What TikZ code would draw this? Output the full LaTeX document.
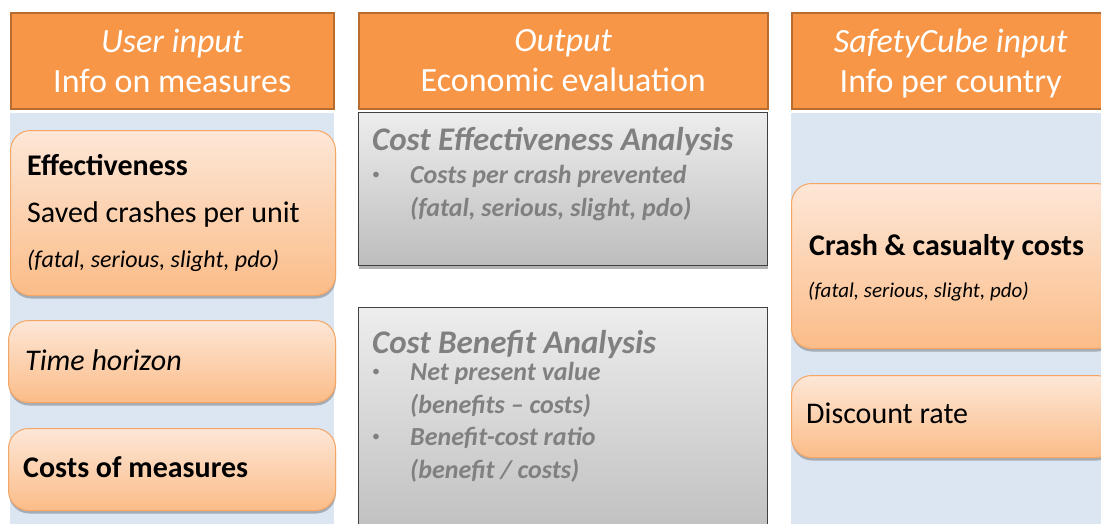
\documentclass[tikz,border=0pt]{standalone}
\usepackage{fontspec}
\setmainfont{Carlito}
\usetikzlibrary{calc,shadows}

\definecolor{hdrfill}{HTML}{F79646}
\definecolor{hdrline}{HTML}{B86C30}
\definecolor{colblue}{HTML}{DCE6F2}
\definecolor{boxtop}{HTML}{FDE7D7}
\definecolor{boxbot}{HTML}{FBBC88}
\definecolor{boxline}{HTML}{F5A564}
\definecolor{greytop}{HTML}{EDEDED}
\definecolor{greybot}{HTML}{BDBDBD}
\definecolor{greytext}{HTML}{808080}

\tikzset{
  header/.style={draw=hdrline, line width=1.5pt, fill=hdrfill, text=white, align=center,
    minimum height=96, inner sep=0, anchor=north west, font=\fontsize{34}{40}\selectfont},
  column/.style={fill=colblue, inner sep=0, anchor=north west},
  inbox/.style={draw=boxline, line width=1pt, rounded corners=20, top color=boxtop,
    bottom color=boxbot, inner sep=0, anchor=north west,
    drop shadow={shadow xshift=0.5pt, shadow yshift=-3pt, fill=black, opacity=0.25}},
  anbox/.style={draw=black!75, line width=1.2pt, top color=greytop, bottom color=greybot,
    inner sep=0, anchor=north west,
    drop shadow={shadow xshift=0.5pt, shadow yshift=-3pt, fill=black, opacity=0.3}},
  txt/.style={anchor=base west, inner sep=0, font=\fontsize{#1}{#1}\selectfont},
  gtxt/.style={anchor=base west, inner sep=0, text=greytext, align=left,
    font=\fontsize{#1}{33}\selectfont\bfseries\itshape},
  dot/.style={anchor=base west, inner sep=0, text=greytext, font=\fontsize{16}{16}\selectfont},
}

\begin{document}
\begin{tikzpicture}[x=1pt,y=-1pt]
  \useasboundingbox (0,0) rectangle (1101,523);
  \clip (0,0) rectangle (1101,523);
  % columns
  \node[column, minimum width=324, minimum height=420] (ColL) at (10,113) {};
  \node[column, minimum width=320, minimum height=420] (ColR) at (791,113) {};
  % headers
  \node[header, minimum width=323] (HdrL) at (10,12) {\textit{User input}\\Info on measures};
  \node[header, minimum width=409] (HdrM) at (358,12) {\textit{Output}\\Economic evaluation};
  \node[header, minimum width=318] (HdrR) at (791,12) {\textit{SafetyCube input}\\\smash{Info per country}};
  % user input
  \node[inbox, minimum width=325, minimum height=165] (Eff) at (10,130) {};
  \node[txt=30] (EffA) at ($(Eff.north west)+(17,45)$) {\bfseries Effectiveness};
  \node[txt=30] (EffB) at ($(Eff.north west)+(17,92)$) {Saved crashes per unit};
  \node[txt=24] (EffC) at ($(Eff.north west)+(17,137)$) {\itshape (fatal, serious, slight, pdo)};
  \node[inbox, minimum width=327, minimum height=82] (Time) at (8,320) {};
  \node[txt=30] (TimeA) at ($(Time.north west)+(17,50)$) {\itshape Time horizon};
  \node[inbox, minimum width=327, minimum height=82] (Cost) at (8,428) {};
  \node[txt=30] (CostA) at ($(Cost.north west)+(15,49)$) {\bfseries Costs of measures};
  % output
  \node[anbox, minimum width=409, minimum height=153] (CEA) at (358,112) {};
  \node[gtxt=33] (CEAT) at ($(CEA.north west)+(14,38)$) {Cost Effectiveness Analysis};
  \node[dot] (CEAd) at ($(CEA.north west)+(14,67)$) {\textbullet};
  \node[gtxt=26, anchor=north west] (CEAa) at ($(CEA.north west)+(52,53)$) {Costs per crash prevented\\(fatal, serious, slight, pdo)};
  \node[anbox, minimum width=409, minimum height=240] (CBA) at (358,307) {};
  \node[gtxt=33] (CBAT) at ($(CBA.north west)+(14,46)$) {Cost Benefit Analysis};
  \node[dot] (CBAd1) at ($(CBA.north west)+(14,69)$) {\textbullet};
  \node[gtxt=26, anchor=north west] (CBAa) at ($(CBA.north west)+(52,55)$) {Net present value\\(benefits -- costs)};
  \node[dot] (CBAd2) at ($(CBA.north west)+(14,134)$) {\textbullet};
  \node[gtxt=26, anchor=north west] (CBAb) at ($(CBA.north west)+(52,120)$) {Benefit-cost ratio\\(benefit / costs)};
  % safetycube input
  \node[inbox, minimum width=325, minimum height=165] (Crash) at (791,183) {};
  \node[txt=30] (CrashA) at ($(Crash.north west)+(18,72)$) {\bfseries Crash \& casualty costs};
  \node[txt=21] (CrashB) at ($(Crash.north west)+(17,114)$) {\itshape (fatal, serious, slight, pdo)};
  \node[inbox, minimum width=325, minimum height=82] (Disc) at (791,375) {};
  \node[txt=30] (DiscA) at ($(Disc.north west)+(15,48)$) {Discount rate};
\end{tikzpicture}
\end{document}
